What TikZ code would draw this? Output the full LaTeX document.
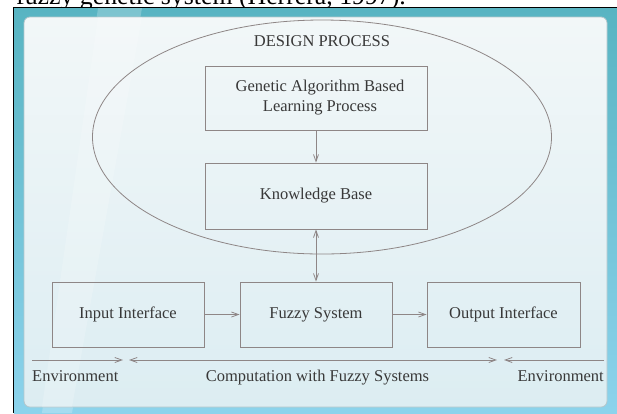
\documentclass[tikz,border=0pt]{standalone}
\usepackage{fontspec}
\setmainfont{Liberation Serif}
\usetikzlibrary{arrows.meta}
\definecolor{linegray}{HTML}{8E8686}
\definecolor{txtgray}{HTML}{383838}
\definecolor{bandtop}{HTML}{58B4C2}
\definecolor{bandbot}{HTML}{8CD3EC}
\definecolor{pantop}{HTML}{F2F7F8}
\definecolor{panmid}{HTML}{F9FCFC}
\definecolor{panbot}{HTML}{DCEDF2}
\definecolor{panedge}{HTML}{B4C6CB}
\begin{document}
\begin{tikzpicture}[x=1bp,y=-1bp,
  box/.style={draw=linegray, line width=0.8bp, rectangle, text=txtgray,
    font=\fontsize{16.5bp}{20bp}\selectfont, align=center, inner sep=0pt},
  conn/.style={draw=linegray, line width=0.8bp, -{Straight Barb[length=7bp,width=5bp]}},
  biconn/.style={draw=linegray, line width=0.8bp, {Straight Barb[length=7bp,width=5bp]}-{Straight Barb[length=7bp,width=5bp]}},
  lbl/.style={text=txtgray, font=\fontsize{16.5bp}{20bp}\selectfont, inner sep=0pt}]
\useasboundingbox (0,0) rectangle (617,413);
\clip (0,0) rectangle (617,413);
\fill[white] (0,0) rectangle (617,413);
% clipped caption line above the figure
\node[anchor=base west, inner sep=0pt, font=\fontsize{25.8bp}{30bp}\selectfont] (cap) at (16,4.5) {fuzzy genetic system (Herrera, 1997).};
% outer frame band
\fill[top color=bandtop, bottom color=bandbot] (14,8) rectangle (617,413);
\draw[black, line width=1.2bp] (13.6,413) -- (13.6,7.6) -- (617,7.6);
% glossy stripe
\fill[white, opacity=0.22] (98,8) -- (142,8) -- (72,413) -- (42,413) -- cycle;
% inner panel
\draw[draw=panedge, line width=0.8bp, rounded corners=6bp, top color=pantop, middle color=panmid, bottom color=panbot] (24,17) rectangle (607,407);
\fill[white, opacity=0.18] (98,17) -- (142,17) -- (72,407) -- (42,407) -- cycle;
% design process ellipse
\draw[linegray, line width=0.8bp] (322,137) ellipse [x radius=229.5, y radius=117];
\node[lbl] (dp) at (322,41) {DESIGN PROCESS};
% boxes
\node[box, minimum width=222bp, minimum height=64bp] (ga) at (316,98) {\hspace*{8bp}Genetic Algorithm Based\\\hspace*{8bp}Learning Process};
\node[box, minimum width=222bp, minimum height=66bp] (kb) at (316,196) {Knowledge Base};
\node[box, minimum width=152bp, minimum height=65bp] (in) at (128,314.5) {Input Interface};
\node[box, minimum width=152bp, minimum height=65bp] (fs) at (316,314.5) {Fuzzy System};
\node[box, minimum width=153bp, minimum height=65bp] (out) at (503.5,314.5) {Output Interface};
% connectors
\draw[conn] (ga) -- (kb);
\draw[biconn] (kb) -- (fs);
\draw[conn] (in) -- (fs);
\draw[conn] (fs) -- (out);
% bottom scale line
\coordinate (l0) at (32,360);
\coordinate (l1) at (123,360);
\coordinate (m0) at (129,360);
\coordinate (m1) at (497,360);
\coordinate (r1) at (504,360);
\coordinate (r0) at (604,360);
\draw[conn] (l0) -- (l1);
\draw[biconn] (m0) -- (m1);
\draw[conn] (r0) -- (r1);
\node[lbl, anchor=base west] (envl) at (32,381) {Environment};
\node[lbl, anchor=base] (comp) at (317.5,381) {Computation with Fuzzy Systems};
\node[lbl, anchor=base east] (envr) at (604,381) {Environment};
\end{tikzpicture}
\end{document}
